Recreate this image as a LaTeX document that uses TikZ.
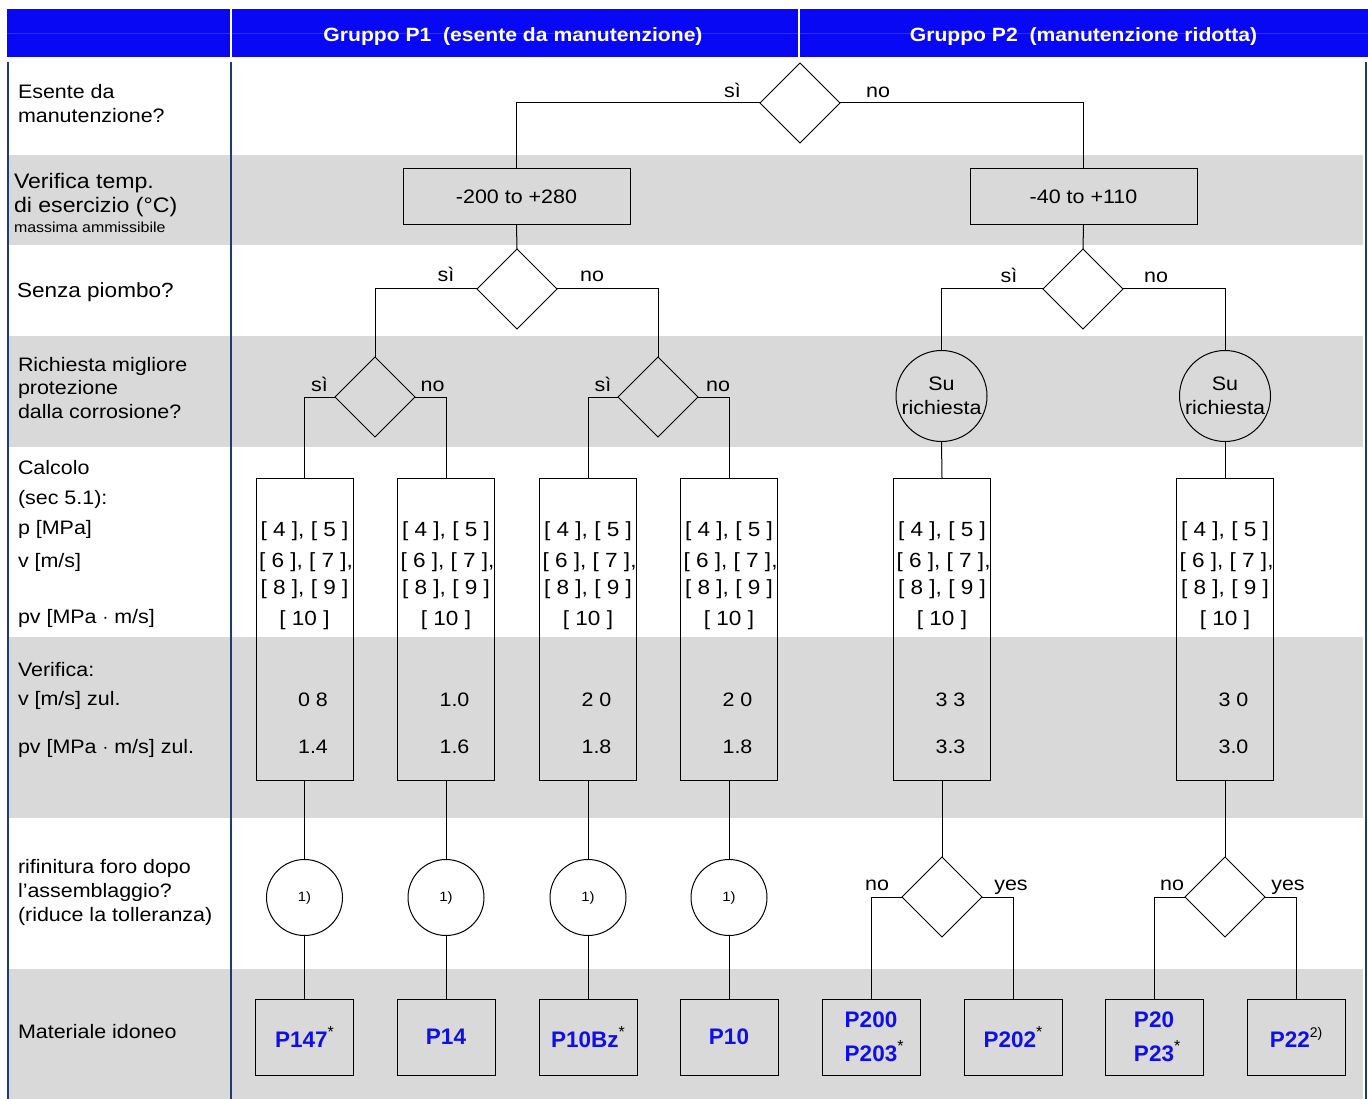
\documentclass[tikz,border=0pt]{standalone}
\usepackage{fontspec}
\setmainfont{Liberation Sans}[FakeStretch=1.1]
\newfontfamily\matfont{Liberation Sans}
\usetikzlibrary{shapes.geometric}
\definecolor{hdrblue}{RGB}{8,8,245}
\definecolor{bandgray}{RGB}{217,217,217}
\definecolor{navy}{RGB}{30,60,115}
\definecolor{matblue}{RGB}{15,15,235}
\definecolor{hdrgreen}{RGB}{20,95,70}
\newcommand{\myast}{\raisebox{10pt}{\fontsize{16}{16}\selectfont\mdseries\color{black}*}}
\newcommand{\myrast}{\rlap{\raisebox{10pt}{\fontsize{16}{16}\selectfont\mdseries\color{black}*}}}
\begin{document}
\begin{tikzpicture}[x=1pt,y=-1pt,
  every node/.style={inner sep=0pt,outer sep=0pt},
  lbl/.style={font=\fontsize{19.5}{23.5}\selectfont,anchor=base west},
  ctext/.style={font=\fontsize{19.5}{23.5}\selectfont,anchor=base},
  brk/.style={font=\fontsize{20.5}{23.5}\selectfont,anchor=base},
  hdr/.style={font=\bfseries\fontsize{19.2}{23}\selectfont,text=white,anchor=base},
  ln/.style={line width=1pt,black},
  dia/.style={diamond,draw,line width=1pt,minimum width=80pt,minimum height=80pt},
  rngbox/.style={draw,line width=1pt,minimum width=227pt,minimum height=56pt,font=\fontsize{19.5}{23.5}\selectfont},
  calcbox/.style={draw,line width=1pt,minimum width=97pt,minimum height=302pt},
  bigcirc/.style={circle,draw,line width=1pt,minimum size=91pt,align=center,font=\fontsize{19.5}{24.5}\selectfont},
  smallcirc/.style={circle,draw,line width=1pt,minimum size=76pt,font=\fontsize{13.5}{14}\selectfont},
  matbox/.style={draw,line width=1pt,minimum width=98pt,minimum height=76pt,align=center,text=matblue,font=\matfont\bfseries\fontsize{22.5}{34}\selectfont},
]
\useasboundingbox (0,0) rectangle (1368,1099);
% background bands
\fill[bandgray] (8,155) rectangle (1363,245);
\fill[bandgray] (8,336) rectangle (1363,447);
\fill[bandgray] (8,637) rectangle (1363,818);
\fill[bandgray] (8,969) rectangle (1363,1099);
% header
\fill[hdrblue] (7,9) rectangle (1368,57);
\draw[hdrgreen,line width=1pt] (7,34) -- (1368,34);
\draw[white,line width=1.5pt] (231,9) -- (231,57);
\draw[white,line width=1.5pt] (799,9) -- (799,57);
\node[hdr] (h1) at (513,42) {Gruppo P1~~(esente da manutenzione)};
\node[hdr] (h2) at (1083.5,42) {Gruppo P2~~(manutenzione ridotta)};
% frame lines
\draw[navy,line width=1.2pt] (8,62) -- (8,1099);
\draw[navy,line width=1.2pt] (231,62) -- (231,1099);
\draw[navy,line width=1.2pt] (1366,62) -- (1366,1099);
% left labels
\node[lbl] (l1a) at (18,99) {Esente da};
\node[lbl] (l1b) at (18,123) {manutenzione?};
\node[lbl,font=\fontsize{21}{24}\selectfont] (l2a) at (14,189) {Verifica temp.};
\node[lbl,font=\fontsize{21}{24}\selectfont] (l2b) at (14,213) {di esercizio (°C)};
\node[lbl,font=\fontsize{14.5}{16}\selectfont] (l2c) at (14,233) {massima ammissibile};
\node[lbl,font=\fontsize{20.5}{24}\selectfont] (l3) at (17,298) {Senza piombo?};
\node[lbl] (l4a) at (18,371) {Richiesta migliore};
\node[lbl] (l4b) at (18,394) {protezione};
\node[lbl] (l4c) at (18,418) {dalla corrosione?};
\node[lbl] (l5a) at (18,474) {Calcolo};
\node[lbl] (l5b) at (18,504) {(sec 5.1):};
\node[lbl] (l5c) at (18,534) {p [MPa]};
\node[lbl] (l5d) at (18,567) {v [m/s]};
\node[lbl] (l5e) at (18,623) {pv [MPa $\cdot$ m/s]};
\node[lbl] (l6a) at (18,676) {Verifica:};
\node[lbl] (l6b) at (18,705) {v [m/s] zul.};
\node[lbl] (l6c) at (18,753) {pv [MPa $\cdot$ m/s] zul.};
\node[lbl] (l7a) at (18,873) {rifinitura foro dopo};
\node[lbl] (l7b) at (18,897) {l’assemblaggio?};
\node[lbl] (l7c) at (18,921) {(riduce la tolleranza)};
\node[lbl] (l8) at (18,1038) {Materiale idoneo};
% decision nodes
\node[dia] (d0) at (800,103) {};
\node[dia] (d1) at (517,289) {};
\node[dia] (d2) at (375,397) {};
\node[dia] (d3) at (658,397) {};
\node[dia] (d4) at (1083,289) {};
\node[dia] (d5) at (942,897) {};
\node[dia] (d6) at (1225,897) {};
% range boxes
\node[rngbox] (r1) at (516.5,197) {-200 to +280};
\node[rngbox] (r2) at (1083.5,197) {-40 to +110};
% su richiesta
\node[bigcirc] (s1) at (941.5,396) {Su\\richiesta};
\node[bigcirc] (s2) at (1225,396) {Su\\richiesta};
% calc boxes with texts
\foreach \n/\cx/\va/\vb in {A/304.5/0 8/1.4,B/446/1.0/1.6,C/588/2 0/1.8,D/729/2 0/1.8,E/942/3 3/3.3,F/1225/3 0/3.0}{
  \node[calcbox] (c\n) at (\cx,629) {};
  \node[brk] (t\n a) at (\cx,536) {[ 4 ], [ 5 ]};
  \node[brk] (t\n b) at (\cx+1.5,567) {[ 6 ], [ 7 ],};
  \node[brk] (t\n c) at (\cx,594) {[ 8 ], [ 9 ]};
  \node[brk] (t\n d) at (\cx,625) {[ 10 ]};
  \node[ctext] (t\n e) at (\cx+8.5,706) {\va};
  \node[ctext] (t\n f) at (\cx+8.5,753) {\vb};
}
% small circles
\foreach \n/\cx in {A/304.5,B/446,C/588,D/729}{
  \node[smallcirc] (k\n) at (\cx,897.5) {1)};
}
% material boxes
\node[matbox] (mA) at (304.5,1037) {P147\myast};
\node[matbox] (mB) at (446,1037) {P14};
\node[matbox] (mC) at (588,1037) {P10Bz\myast};
\node[matbox] (mD) at (729,1037) {P10};
\node[matbox] (mE) at (871,1037) {P200\\P203\myrast};
\node[matbox] (mF) at (1013,1037) {P202\myast};
\node[matbox] (mG) at (1154,1037) {P20\\P23\myrast};
\node[matbox] (mH) at (1296,1037) {P22\raisebox{10pt}{\fontsize{14}{14}\selectfont\mdseries\color{black}2)}};
% branch labels
\node[ctext] (y0) at (732.5,98) {sì};
\node[ctext] (n0) at (878,98) {no};
\node[ctext] (y1) at (446,282) {sì};
\node[ctext] (n1) at (592,282) {no};
\node[ctext] (y2) at (319.5,391) {sì};
\node[ctext] (n2) at (432.5,391) {no};
\node[ctext] (y3) at (603,391) {sì};
\node[ctext] (n3) at (718,391) {no};
\node[ctext] (y4) at (1009,283) {sì};
\node[ctext] (n4) at (1156,283) {no};
\node[ctext] (n5) at (877,890) {no};
\node[ctext] (y5) at (1011,890) {yes};
\node[ctext] (n6) at (1172,890) {no};
\node[ctext] (y6) at (1288,890) {yes};
% connectors
\draw[ln] (d0.west) -| (r1.north);
\draw[ln] (d0.east) -| (r2.north);
\draw[ln] (r1.south) -- (d1.north);
\draw[ln] (r2.south) -- (d4.north);
\draw[ln] (d1.west) -| (d2.north);
\draw[ln] (d1.east) -| (d3.north);
\draw[ln] (d2.west) -| (cA.north);
\draw[ln] (d2.east) -| (cB.north);
\draw[ln] (d3.west) -| (cC.north);
\draw[ln] (d3.east) -| (cD.north);
\draw[ln] (d4.west) -| (s1.north);
\draw[ln] (d4.east) -| (s2.north);
\draw[ln] (s1.south) -- (cE.north);
\draw[ln] (s2.south) -- (cF.north);
\foreach \n in {A,B,C,D}{
  \draw[ln] (c\n.south) -- (k\n.north);
  \draw[ln] (k\n.south) -- (m\n.north);
}
\draw[ln] (cE.south) -- (d5.north);
\draw[ln] (cF.south) -- (d6.north);
\draw[ln] (d5.west) -| (mE.north);
\draw[ln] (d5.east) -| (mF.north);
\draw[ln] (d6.west) -| (mG.north);
\draw[ln] (d6.east) -| (mH.north);
\end{tikzpicture}
\end{document}
